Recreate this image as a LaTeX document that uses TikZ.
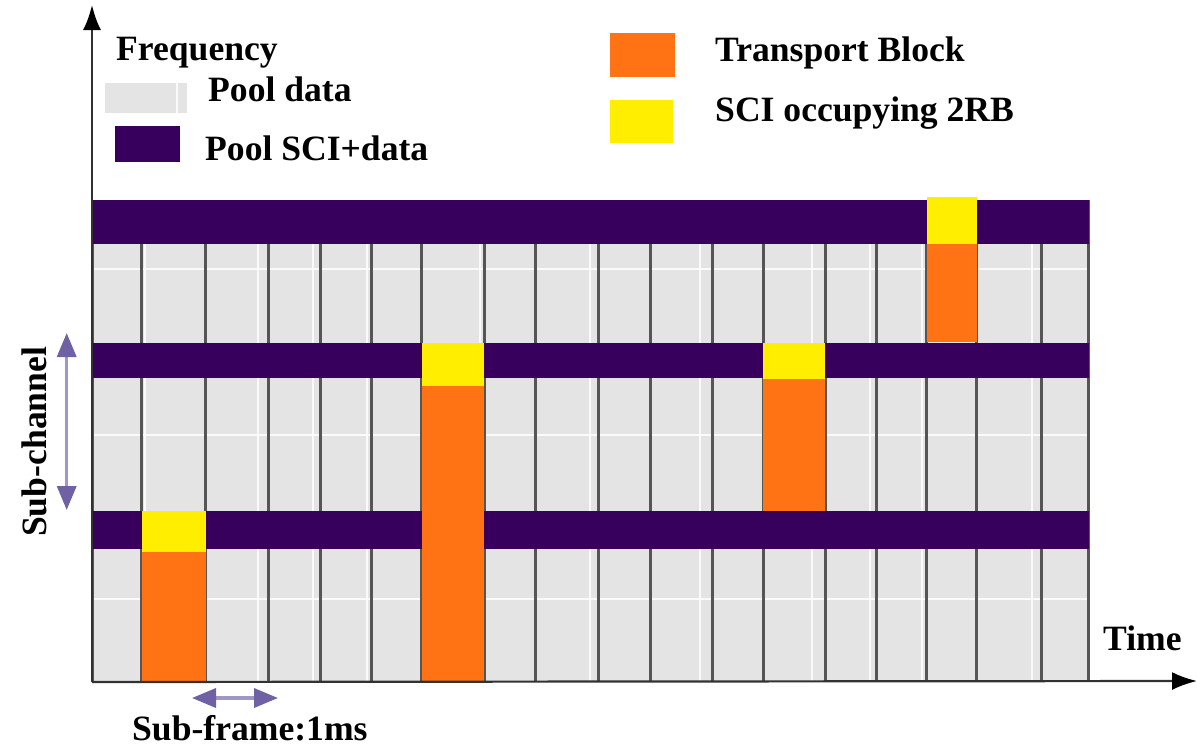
\documentclass[tikz,border=0pt]{standalone}
\usepackage{fontspec}
\setmainfont{Liberation Serif}
\usetikzlibrary{arrows.meta}

\definecolor{poolpurple}{RGB}{56,0,92}
\definecolor{tborange}{RGB}{255,115,20}
\definecolor{sciyellow}{RGB}{255,238,0}
\definecolor{cellgray}{RGB}{228,228,228}
\definecolor{gridline}{RGB}{85,85,85}
\definecolor{axisgray}{RGB}{50,50,50}
\definecolor{spanshaft}{RGB}{160,150,200}
\definecolor{spanhead}{RGB}{112,96,164}

\tikzset{
  lbl/.style={font=\fontsize{35.6pt}{40pt}\selectfont\bfseries, inner sep=0pt, anchor=base west},
  axisline/.style={draw=axisgray, line width=2.2pt, -{Latex[length=25pt,width=18pt,color=black]}},
  span/.style={draw=spanshaft, line width=3.5pt,
    {Triangle[length=24pt,width=19pt,color=spanhead]}-{Triangle[length=24pt,width=19pt,color=spanhead]}},
  cellsep/.style={draw=gridline, line width=3pt},
  highlight/.style={draw=white, line width=2pt, opacity=0.85},
}

\begin{document}
\begin{tikzpicture}[x=1pt, y=-1pt]
\useasboundingbox (0,0) rectangle (1197,748);

% ---- resource grid background ----
\fill[cellgray] (92,200) rectangle (1088.3,682);

% light row separators inside each sub-channel
\foreach \yy in {269,435,599}
  \draw[highlight] (92,\yy) -- (1088,\yy);

% light vertical highlights inside the sub-frames
\foreach \xx in {145,258,313,367,480,590,700,812,870,922,1032}
  \draw[highlight] (\xx,200) -- (\xx,682);

% sub-frame boundaries
\foreach \xx in {92,141.7,205,268.3,320,371,421.5,484,535.7,598.3,650,712.7,763.3,825,876.7,926.7,976.7,1041.7,1088.3}
  \draw[cellsep] (\xx,200) -- (\xx,682);

% ---- SCI+data pools (one per sub-channel) ----
\fill[poolpurple] (92,200)   rectangle (1089,244);
\fill[poolpurple] (92,342.5) rectangle (1089,378);
\fill[poolpurple] (92,511)   rectangle (1089,548.5);

% ---- transmissions: SCI (yellow) + transport block (orange) ----
\fill[tborange]  (141.7,551.5) rectangle (205.5,682);
\fill[sciyellow] (141.7,511)   rectangle (205.5,551.5);

\fill[tborange]  (421.5,386)   rectangle (484,682);
\fill[sciyellow] (421.5,342.5) rectangle (484,386);

\fill[tborange]  (763.3,378.5) rectangle (825,510.5);
\fill[sciyellow] (763.3,342.5) rectangle (825,378.5);

\fill[tborange]  (926.7,244)   rectangle (976.7,342);
\fill[sciyellow] (926.7,197)   rectangle (976.7,244);

% ---- axes ----
\coordinate (origin) at (92,682);
\coordinate (ftop)   at (92,5);
\coordinate (tend)   at (1197,681);
\draw[axisline] (origin) -- (ftop);
\draw[axisline] (origin) -- (tend);

% ---- legend ----
\fill[cellgray] (105,83) rectangle (187,113);
\draw[highlight] (176.5,83) -- (176.5,113);
\fill[poolpurple] (115,126) rectangle (180,162);
\fill[tborange] (610,33) rectangle (675,77);
\fill[sciyellow] (610,100) rectangle (673,143);

\node[lbl] (freq)  at (116,60)    {Frequency};
\node[lbl] (pdata) at (208,101.7) {Pool data};
\node[lbl] (psci)  at (205,160)   {Pool SCI+data};
\node[lbl] (tb)    at (715,61.7)  {Transport Block};
\node[lbl] (sci)   at (715,121.7) {SCI occupying 2RB};
\node[lbl] (time)  at (1103,650)  {Time};

% ---- dimension markers ----
\coordinate (sctop) at (66.7,333);
\coordinate (scbot) at (66.7,510);
\draw[span] (sctop) -- (scbot);
\node[lbl, rotate=90] (subch) at (46,537) {Sub-channel};

\coordinate (sfl) at (192,698);
\coordinate (sfr) at (278,698);
\draw[span] (sfl) -- (sfr);
\node[lbl] (subfr) at (132,740) {Sub-frame:1ms};
\end{tikzpicture}
\end{document}
